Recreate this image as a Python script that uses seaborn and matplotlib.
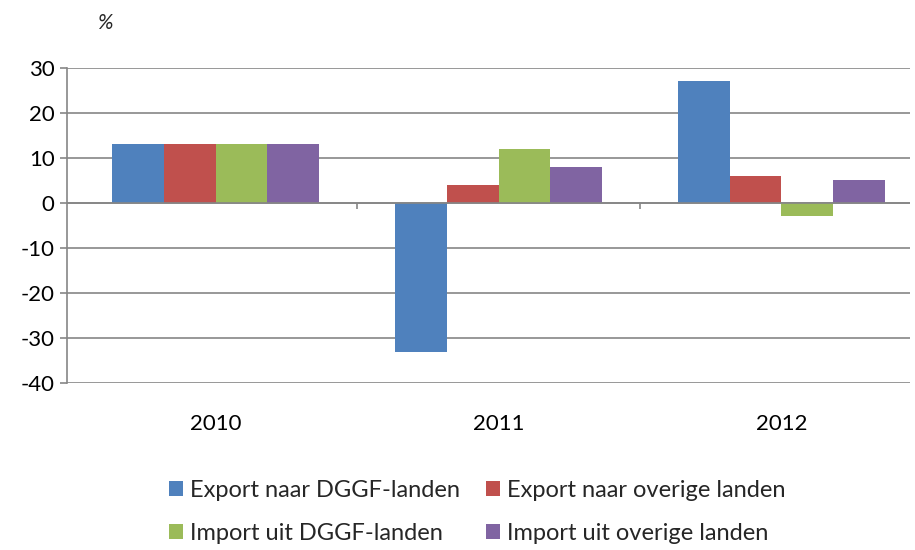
import numpy as np
import pandas as pd
import matplotlib
matplotlib.use("Agg")
import matplotlib.pyplot as plt
import seaborn as sb

years = ["2010", "2011", "2012"]
series = ["Export naar DGGF-landen", "Export naar overige landen",
          "Import uit DGGF-landen", "Import uit overige landen"]
export_dggf = [13, -33, 27]
export_overig = [13, 4, 6]
import_dggf = [13, 12, -3]
import_overig = [13, 8, 5]
colors = ["#4F81BD", "#C0504D", "#9BBB59", "#8064A2"]

rows = []
for name, vals in zip(series, [export_dggf, export_overig, import_dggf, import_overig]):
    for y, v in zip(years, vals):
        rows.append({"jaar": y, "reeks": name, "waarde": v})
df = pd.DataFrame(rows)

sb.set_theme(style="white")
plt.rcParams["font.family"] = ["Lato", "DejaVu Sans"]
plt.rcParams["axes.unicode_minus"] = False

fig = plt.figure(figsize=(9.15, 5.5), dpi=100)
ax = fig.add_axes([0.0732, 0.3036, 0.9213, 0.5728])

sb.barplot(data=df, x="jaar", y="waarde", hue="reeks", palette=colors,
           width=0.73, saturation=1, ax=ax, edgecolor="none", linewidth=0)

grid_c = "#868686"
ax.set_ylim(-40, 30)
ax.set_xlim(-0.525, 2.454)
ax.set_yticks(np.arange(-40, 31, 10))
for yv in np.arange(-40, 31, 10):
    ax.axhline(yv, color=grid_c, lw=1.2, zorder=0)
ax.axhline(0, color=grid_c, lw=1.2, zorder=3)
ax.vlines([0.5, 1.5], -1.3, 0, color=grid_c, lw=1.2, zorder=3)

for s in ["top", "right", "bottom"]:
    ax.spines[s].set_visible(False)
ax.spines["left"].set_color(grid_c)
ax.spines["left"].set_linewidth(1.2)
ax.tick_params(axis="y", length=5, color=grid_c, width=1.2, labelsize=16, pad=4,
               left=True, labelcolor="black")
ax.tick_params(axis="x", length=0, labelsize=16, pad=22, labelcolor="black")
ax.set_xlabel("")
ax.set_ylabel("")

fig.text(0.106, 0.958, "%", fontsize=15, style="italic", ha="left", va="center")

handles, labels = ax.get_legend_handles_labels()
order = [0, 2, 1, 3]
ax.legend([handles[i] for i in order], [labels[i] for i in order], ncol=2,
          loc="upper center", bbox_to_anchor=(0.487, -0.24),
          frameon=False, fontsize=17, handlelength=0.6, handleheight=0.6,
          handletextpad=0.3, columnspacing=1.1, labelspacing=0.95)

plt.savefig("out.png", dpi=100)
